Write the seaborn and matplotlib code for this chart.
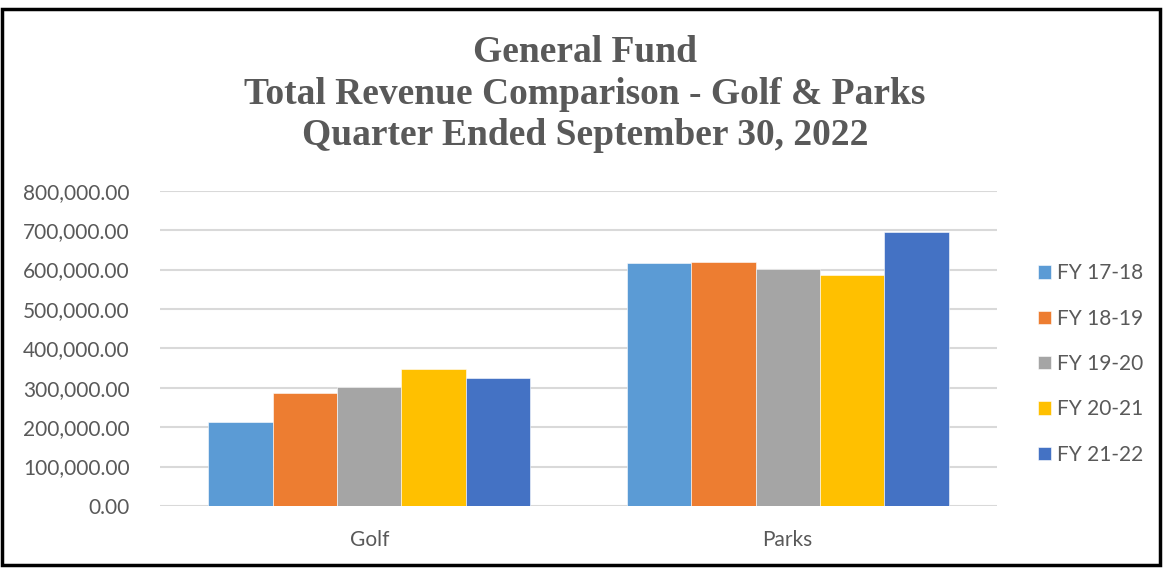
import matplotlib
matplotlib.use("Agg")
import matplotlib.pyplot as plt
import seaborn as sns
import pandas as pd
from matplotlib.patches import Rectangle
from matplotlib.ticker import FuncFormatter

# Values
categories = ["Golf", "Parks"]
years = ["FY 17-18", "FY 18-19", "FY 19-20", "FY 20-21", "FY 21-22"]
golf = [212000, 287000, 303000, 347000, 324000]
parks = [616000, 619000, 602000, 585000, 695000]
colors = ["#5B9BD5", "#ED7D31", "#A5A5A5", "#FFC000", "#4472C4"]

rows = []
for cat, vals in zip(categories, [golf, parks]):
    for yr, v in zip(years, vals):
        rows.append({"Category": cat, "Year": yr, "Revenue": v})
df = pd.DataFrame(rows)

sns.set_style("white")
plt.rcParams["font.family"] = ["Lato", "DejaVu Sans"]

W, H = 1164, 568
fig = plt.figure(figsize=(W / 100, H / 100), dpi=100)
ax = fig.add_axes([160 / W, 62 / H, 837 / W, 315.3 / H])

sns.barplot(data=df, x="Category", y="Revenue", hue="Year", order=categories,
            hue_order=years, palette=colors, saturation=1, width=0.77, gap=0,
            edgecolor="white", linewidth=0.4, ax=ax, zorder=3)

ax.set_ylim(0, 800000)
ax.set_xlim(-0.5, 1.5)
ax.set_yticks(range(0, 800001, 100000))
ax.yaxis.set_major_formatter(FuncFormatter(lambda v, p: f"{v:,.2f}"))
ax.grid(axis="y", color="#d9d9d9", linewidth=1.5, zorder=0)
ax.set_axisbelow(True)
for s in ax.spines.values():
    s.set_visible(False)
ax.tick_params(axis="y", length=0, pad=22, labelsize=15, labelcolor="#595959")
ax.tick_params(axis="x", length=0, pad=17, labelsize=15, labelcolor="#595959")
ax.set_xlabel("")
ax.set_ylabel("")

ax.legend(loc="center left", bbox_to_anchor=(1038 / W, 1 - 364 / H),
          bbox_transform=fig.transFigure, frameon=False, fontsize=15,
          labelcolor="#595959", handlelength=0.62, handleheight=0.62,
          handletextpad=0.3, labelspacing=1.22, borderaxespad=0, borderpad=0)

fig.text(585 / W, 1 - 94 / H, "General Fund\nTotal Revenue Comparison - Golf & Parks\nQuarter Ended September 30, 2022",
         ha="center", va="center", family="Liberation Serif", fontweight="bold",
         fontsize=27, color="#595959", linespacing=1.23)

fig.patches.append(Rectangle((2 / W, 3 / H), 1158 / W, 556 / H, transform=fig.transFigure,
                             fill=False, edgecolor="black", linewidth=2.5))

fig.savefig("out.png", dpi=100)
